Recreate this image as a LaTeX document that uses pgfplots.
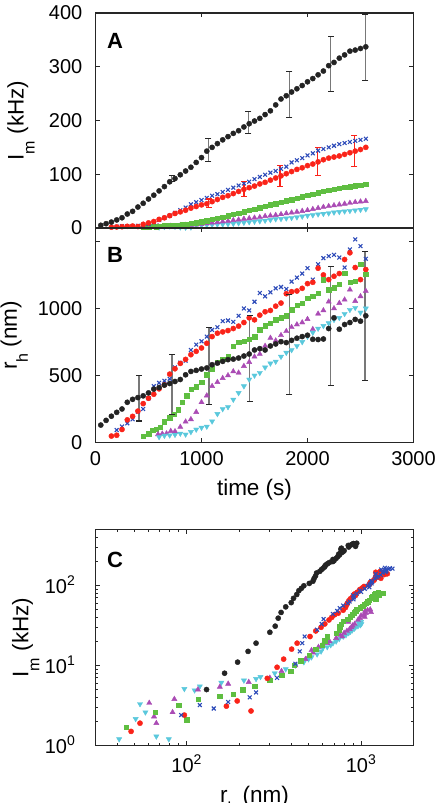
\documentclass[border=0pt]{standalone}
\usepackage{fontspec}
\setmainfont{Liberation Sans}
\usepackage{pgfplots}
\usepackage{pgfplotstable}
\pgfplotsset{compat=1.18}

\definecolor{cblk}{RGB}{35,35,35}
\definecolor{cblu}{RGB}{45,75,185}
\definecolor{cred}{RGB}{250,35,25}
\definecolor{cgrn}{RGB}{95,190,65}
\definecolor{cmag}{RGB}{170,75,180}
\definecolor{ccyn}{RGB}{90,200,220}
\definecolor{cbar}{RGB}{120,120,120}

% lowered subscript, as in the axis labels
\newcommand{\sub}[1]{\raisebox{-11pt}{\fontsize{16}{16}\selectfont #1}}

% columns: time (s), intensity I_m (kHz), radius r_h (nm)
\pgfplotstableread{
t I r
50 5 130
100 8 165
150 11 196
200 15 225
250 19 250
300 26 300
350 31 322
400 39 335
450 46 348
500 54 370
550 61 398
600 69 410
650 77 428
700 86 440
750 92 455
800 99 470
850 106 505
900 113 530
950 122 538
1000 131 548
1050 143 556
1100 150 580
1150 157 592
1200 164 605
1250 170 618
1300 176 622
1350 181 630
1400 188 645
1450 194 660
1500 199 690
1550 204 700
1600 211 690
1650 218 720
1700 229 735
1750 240 752
1800 246 745
1850 253 762
1900 259 778
1950 265 790
2000 272 800
2050 278 770
2100 285 768
2150 292 772
2200 302 850
2250 308 930
2300 316 845
2350 322 880
2400 329 895
2450 331 918
2500 334 905
2550 337 945
}\tblk

\pgfplotstableread{
t I r
150 1.5 48
200 1.9 54
250 2.4 97
300 3.1 169
350 3.6 195
400 2.7 234
450 6.9 290
500 9.5 330
550 12 360
600 16 400
650 19 430
700 23 510
750 27 550
800 30 590
850 33 620
900 37 655
950 40 680
1000 43 705
1050 45 740
1100 49 790
1150 53 815
1200 57 825
1250 60 835
1300 64 850
1350 68 868
1400 72 895
1450 75 930
1500 78 915
1550 82 950
1600 85 975
1650 89 985
1700 93 1017
1750 97 1040
1800 101 1110
1850 105 1125
1900 109 1130
1950 112 1150
2000 116 1185
2050 119 1195
2100 123 1300
2150 127 1250
2200 130 1215
2250 132 1240
2300 134 1260
2350 137 1365
2400 140 1415
2450 143 1305
2500 146 1215
2550 150 1290
}\tred

\pgfplotstableread{
t I r
200 2.4 93
250 3.2 119
300 2.9 143
350 3.5 173
400 4.0 230
450 4.6 250
500 7 330
550 10.5 420
600 15 445
650 19 460
700 23 475
750 28 560
800 33 595
850 38 610
900 44 690
950 48 730
1000 52 755
1050 56 790
1100 60 840
1150 63 860
1200 67 905
1250 71 910
1300 75 900
1350 79 945
1400 83 1000
1450 86 985
1500 91 1050
1550 95 1115
1600 99 1090
1650 103 1120
1700 106 1150
1750 110 1160
1800 114 1145
1850 122 1200
1900 126 1230
1950 130 1260
2000 135 1300
2050 139 1215
2100 144 1330
2150 147 1375
2200 150 1390
2250 153 1400
2300 156 1380
2350 158 1305
2400 160 1440
2450 162 1515
2500 164 1465
2550 166 1370
}\tblu

\pgfplotstableread{
t I r
450 1.7 45
500 2.6 66
540 3.2 90
570 2.1 100
610 3.8 116
650 4.1 155
700 4.4 185
740 5.0 210
780 5.5 245
820 6.5 300
860 7.5 350
900 8.5 396
950 10 415
1000 11.5 450
1050 13.5 505
1100 16 550
1150 18 600
1200 20.5 620
1250 23 640
1300 25.5 720
1350 28 750
1400 30.5 755
1450 33 770
1500 35.5 790
1550 38 840
1600 40.5 870
1650 43 890
1700 45.5 915
1750 48 930
1800 50.5 945
1850 53 990
1900 55.5 1025
1950 58 1040
2000 60.5 1075
2050 63 1090
2100 65.5 1115
2150 68 1215
2200 70 1140
2250 72 1155
2300 74 1180
2350 76 1265
2400 77 1195
2450 78.5 1205
2500 79.5 1330
2550 81 1255
}\tgrn

\pgfplotstableread{
t I r
590 3.4 61
630 2.3 65
670 1.9 67
710 3.8 85
750 2.6 83
800 5.0 116
850 5.4 155
900 5.9 173
950 6.2 227
1000 7.0 300
1050 8.5 350
1100 10 420
1150 11 450
1200 12 480
1250 13 500
1300 14.5 530
1350 15.5 520
1400 17 570
1450 18 600
1500 19 640
1550 20 660
1600 22 720
1650 23 780
1700 24 760
1750 25.5 800
1800 27 830
1850 28.5 860
1900 30 880
1950 31.5 895
2000 33 920
2050 35 845
2100 37 960
2150 39 985
2200 40.5 1050
2250 42 1000
2300 43.5 1040
2350 45 1065
2400 46.5 1140
2450 48 1055
2500 49 1090
2550 50 1130
}\tmag

\pgfplotstableread{
t I r
600 1.2 41
650 2.15 51
700 3.3 54
750 2.6 58
800 1.3 67
850 0.9 60
900 1.2 79
950 5.1 97
1000 4.9 111
1050 5.5 119
1100 6.1 158
1150 6.5 213
1200 6.8 250
1250 7.2 265
1300 8.0 320
1350 9.0 370
1400 10.0 420
1450 11.0 470
1500 12.0 500
1550 12.7 520
1600 13.8 560
1650 15 590
1700 16.5 604
1750 17 640
1800 18 670
1850 19 690
1900 20 720
1950 21.5 750
2000 23 790
2050 24 820
2100 25.5 850
2150 26.5 870
2200 27.5 890
2250 29 915
2300 30 930
2350 31 960
2400 32 990
2450 33 1005
2500 34 970
2550 35 1000
}\tcyn

\pgfplotsset{
  panel/.style={
    scale only axis, width=318pt, anchor=south west,
    axis line style={line width=1.1pt, black!85},
    tick align=inside, major tick length=4.5pt, minor tick length=2.5pt,
    every tick/.style={black!85, line width=0.8pt},
    tick label style={font=\fontsize{20}{24}\selectfont, inner sep=0pt},
    label style={font=\fontsize{22.5}{26}\selectfont, inner sep=0pt},
    yticklabel style={anchor=east, xshift=-13pt},
    xticklabel style={anchor=north, yshift=-9pt},
    scaled ticks=false,
    /pgf/number format/assume math mode=true,
    /pgf/number format/1000 sep={},
  },
  sblk/.style={only marks, mark=*, mark size=2.6pt, color=cblk},
  sblu/.style={only marks, mark=x, mark size=2.7pt, line width=1.1pt, color=cblu},
  sred/.style={only marks, mark=*, mark size=2.6pt, color=cred},
  sgrn/.style={only marks, mark=square*, mark size=2.2pt, color=cgrn},
  smag/.style={only marks, mark=triangle*, mark size=3pt, color=cmag},
  scyn/.style={only marks, mark=triangle*, mark size=3pt, color=ccyn,
    mark options={rotate=180}},
  % vertical bar segments (separated by nan) and their end caps
  ebarline/.style={forget plot, line width=1.6pt, mark=none, unbounded coords=jump},
  ebarcap/.style={forget plot, only marks, mark=-, mark size=3pt,
    mark options={line width=1.1pt}},
}
\tikzset{
  panellabel/.style={anchor=base west, inner sep=0pt,
    font=\fontsize{22}{24}\selectfont\bfseries},
}

\begin{document}
\begin{tikzpicture}
\useasboundingbox (0,0) rectangle (434pt,803pt);

% A: intensity against time
\begin{axis}[panel, at={(95.5pt,575pt)}, height=215pt,
  xmin=0, xmax=3000, xtick={0,1000,2000,3000}, xticklabels={},
  ymin=0, ymax=400, ytick={0,100,200,300,400},
  ylabel={I\sub{m} (kHz)},
  ylabel style={at={(axis description cs:-0.226,0.5)}, anchor=base}]
\addplot[scyn] table[x=t, y=I] {\tcyn};
\addplot[smag] table[x=t, y=I] {\tmag};
\addplot[sgrn] table[x=t, y=I] {\tgrn};
\addplot[sblu] table[x=t, y=I] {\tblu};
\addplot[sred] table[x=t, y=I] {\tred};
\addplot[sblk] table[x=t, y=I] {\tblk};
% spread of the red series
\addplot[ebarline, cred, line width=1.3pt] coordinates {
  (1069,38) (1069,54) (1069,nan)
  (1400,58) (1400,86) (1400,nan)
  (1740,77) (1740,117) (1740,nan)
  (2097,98) (2097,150) (2097,nan)
  (2443,114) (2443,172)};
\addplot[ebarcap, cred] coordinates {
  (1069,38) (1069,54) (1400,58) (1400,86) (1740,77) (1740,117)
  (2097,98) (2097,150) (2443,114) (2443,172)};
% spread of the black series
\addplot[ebarline, cbar] coordinates {
  (717,86) (717,98) (717,nan)
  (1066,123) (1066,167) (1066,nan)
  (1443,175) (1443,217) (1443,nan)
  (1830,205) (1830,291) (1830,nan)
  (2217,254) (2217,356) (2217,nan)
  (2547,274) (2547,398)};
\addplot[ebarcap, black!85] coordinates {
  (717,86) (717,98) (1066,123) (1066,167) (1443,175) (1443,217)
  (1830,205) (1830,291) (2217,254) (2217,356) (2547,274) (2547,398)};
\node[panellabel] at (rel axis cs:0.036,0.837) {A};
\end{axis}

% B: radius against time
\begin{axis}[panel, at={(95.5pt,360.5pt)}, height=214.5pt,
  xmin=0, xmax=3000, xtick={0,1000,2000,3000},
  ymin=0, ymax=1600, ytick={0,500,1000,1500}, yticklabels={0,500,1000,},
  xlabel={time (s)},
  xlabel style={at={(axis description cs:0.5,-0.2494)}, anchor=base},
  ylabel={r\sub{h} (nm)},
  ylabel style={at={(axis description cs:-0.247,0.5)}, anchor=base}]
\addplot[sblu] table[x=t, y=r] {\tblu};
\addplot[sred] table[x=t, y=r] {\tred};
\addplot[sgrn] table[x=t, y=r] {\tgrn};
\addplot[smag] table[x=t, y=r] {\tmag};
\addplot[scyn] table[x=t, y=r] {\tcyn};
\addplot[sblk] table[x=t, y=r] {\tblk};
% spread of the black series
\addplot[ebarline, cbar] coordinates {
  (409,160) (409,500) (409,nan)
  (723,209) (723,657) (723,nan)
  (1069,284) (1069,856) (1069,nan)
  (1453,308) (1453,948) (1453,nan)
  (1830,358) (1830,1104) (1830,nan)
  (2217,428) (2217,1316) (2217,nan)
  (2544,464) (2544,1428)};
\addplot[ebarcap, black!85] coordinates {
  (409,160) (409,500) (723,209) (723,657) (1069,284) (1069,856)
  (1453,308) (1453,948) (1830,358) (1830,1104) (2217,428) (2217,1316)
  (2544,464) (2544,1428)};
\node[panellabel] at (rel axis cs:0.036,0.837) {B};
\end{axis}

% C: intensity against radius, log-log
\begin{axis}[panel, xmode=log, ymode=log, at={(95.5pt,57.5pt)}, height=216pt,
  xmin=30, xmax=2000, ymin=1, ymax=500,
  xtick={100,1000}, xticklabels={10\textsuperscript{2},10\textsuperscript{3}},
  minor xtick={40,50,60,70,80,90,200,300,400,500,600,700,800,900,2000},
  ytick={1,10,100}, yticklabels={10\textsuperscript{0},10\textsuperscript{1},10\textsuperscript{2}},
  minor ytick={2,3,4,5,6,7,8,9,20,30,40,50,60,70,80,90,200,300,400,500},
  yticklabel style={anchor=base east, xshift=-7pt, yshift=-8pt},
  xlabel={r\sub{h} (nm)},
  xlabel style={at={(axis description cs:0.5,-0.264)}, anchor=base},
  ylabel={I\sub{m} (kHz)},
  ylabel style={at={(axis description cs:-0.211,0.5)}, anchor=base}]
\addplot[sblk] table[x=r, y=I] {\tblk};
\addplot[scyn] table[x=r, y=I] {\tcyn};
\addplot[smag] table[x=r, y=I] {\tmag};
\addplot[sgrn] table[x=r, y=I] {\tgrn};
\addplot[sred] table[x=r, y=I] {\tred};
\addplot[sblu] table[x=r, y=I] {\tblu};
\node[panellabel] at (rel axis cs:0.036,0.826) {C};
\end{axis}
\end{tikzpicture}
\end{document}
